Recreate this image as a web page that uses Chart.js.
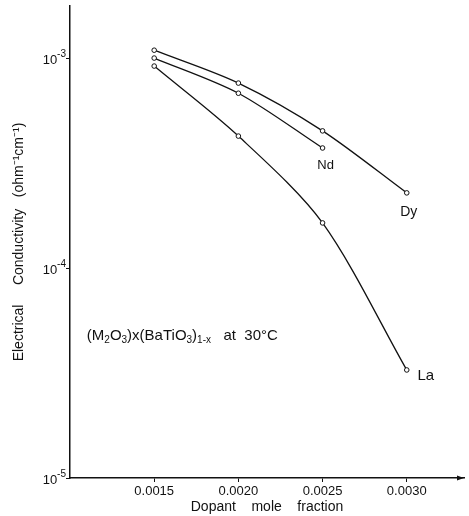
<!DOCTYPE html>
<html><head><meta charset="utf-8">
<script src="https://cdn.jsdelivr.net/npm/chart.js@4/dist/chart.umd.min.js"></script>
<style>html,body{margin:0;padding:0;background:#fff}canvas{display:block}</style>
</head><body>
<canvas id="c" width="469" height="516"></canvas>
<script>
const xTicks = [0.0015, 0.0020, 0.0025, 0.0030];
const xTickLabels = ['0.0015', '0.0020', '0.0025', '0.0030'];
const yTicks = [1e-5, 1e-4, 1e-3];
const yTickBase = ['10', '10', '10'];
const yTickExp = ['-5', '-4', '-3'];
const dyX = [0.0015, 0.0020, 0.0025, 0.0030];
const dyY = [1.09e-3, 7.6e-4, 4.5e-4, 2.28e-4];
const ndX = [0.0015, 0.0020, 0.0025];
const ndY = [1.0e-3, 6.8e-4, 3.73e-4];
const laX = [0.0015, 0.0020, 0.0025, 0.0030];
const laY = [9.16e-4, 4.25e-4, 1.64e-4, 3.27e-5];
const seriesNames = ['Dy', 'Nd', 'La'];

const FONT = '"Liberation Sans", Arial, sans-serif';
const pts = (xs, ys) => xs.map((x, i) => ({x, y: ys[i]}));
const ds = (name, xs, ys) => ({
  label: name, data: pts(xs, ys), borderColor: '#111', borderWidth: 1.3,
  pointRadius: 2.3, pointBackgroundColor: '#fff', pointBorderColor: '#111',
  pointBorderWidth: 1, tension: 0.3, fill: false
});

const annot = {
  id: 'annot',
  afterDraw(chart) {
    const ctx = chart.ctx, xs = chart.scales.x, ys = chart.scales.y;
    ctx.save();
    ctx.fillStyle = '#111';
    const P = (x, y) => [xs.getPixelForValue(x), ys.getPixelForValue(y)];
    // y tick labels with superscripts
    ctx.textBaseline = 'alphabetic'; ctx.textAlign = 'left';
    yTicks.forEach((v, i) => {
      const py = ys.getPixelForValue(v);
      ctx.font = '13px ' + FONT;
      const w1 = ctx.measureText(yTickBase[i]).width;
      ctx.font = '10px ' + FONT;
      const w2 = ctx.measureText(yTickExp[i]).width;
      const x0 = xs.left - 4 - w1 - w2;
      ctx.font = '13px ' + FONT; ctx.fillText(yTickBase[i], x0, py + 6);
      ctx.font = '10px ' + FONT; ctx.fillText(yTickExp[i], x0 + w1, py - 1);
    });
    // series labels
    ctx.textAlign = 'center'; ctx.textBaseline = 'middle';
    let p = P(ndX[2], ndY[2]); ctx.font = '13px ' + FONT; ctx.fillText(seriesNames[1], p[0] + 3, p[1] + 17);
    p = P(dyX[3], dyY[3]); ctx.font = '14px ' + FONT; ctx.fillText(seriesNames[0], p[0] + 2, p[1] + 19);
    p = P(laX[3], laY[3]); ctx.font = '15px ' + FONT; ctx.fillText(seriesNames[2], p[0] + 19, p[1] + 6);
    // caption with subscripts
    ctx.textAlign = 'left'; ctx.textBaseline = 'alphabetic';
    let [cx, cy] = P(0.00110, 4.54e-5);
    const segs = [['(M', 0], ['2', 1], ['O', 0], ['3', 1], [')x(BaTiO', 0], ['3', 1], [')', 0], ['1-x', 1], ['   at  30°C', 0]];
    for (const [t, sub] of segs) {
      ctx.font = (sub ? '10px ' : '15px ') + FONT;
      ctx.fillText(t, cx, cy + (sub ? 3 : 0));
      cx += ctx.measureText(t).width;
    }
    // arrow at end of x axis
    const ya = xs.top, xa = xs.right;
    ctx.beginPath(); ctx.moveTo(xa, ya); ctx.lineTo(xa - 7, ya - 2.5); ctx.lineTo(xa - 7, ya + 2.5); ctx.closePath(); ctx.fill();
    ctx.restore();
  }
};

new Chart(document.getElementById('c'), {
  type: 'line',
  data: { datasets: [ds('Dy', dyX, dyY), ds('Nd', ndX, ndY), ds('La', laX, laY)] },
  options: {
    responsive: false, animation: false,
    layout: { padding: { top: 6, right: 2, left: 0, bottom: 0 } },
    plugins: { legend: { display: false }, tooltip: { enabled: false } },
    scales: {
      x: {
        type: 'linear', min: 0.0010, max: 0.00334,
        afterBuildTicks: s => { s.ticks = xTicks.map(v => ({value: v})); },
        afterFit: s => { s.height = 38; },
        ticks: { color: '#111', font: { family: FONT, size: 13 }, padding: 2, maxRotation: 0,
          callback: (v) => { const i = xTicks.findIndex(t => Math.abs(t - v) < 1e-9); return i >= 0 ? xTickLabels[i] : ''; } },
        grid: { display: true, drawOnChartArea: false, drawTicks: true, tickLength: 4, color: '#111' },
        border: { display: true, color: '#111', width: 1.5 },
        title: { display: true, text: 'Dopant    mole    fraction', color: '#111', font: { family: FONT, size: 14 }, padding: { top: 0, bottom: 0 } }
      },
      y: {
        type: 'logarithmic', min: 1e-5, max: 1.77e-3,
        afterBuildTicks: s => { s.ticks = yTicks.map(v => ({value: v})); },
        afterFit: s => { s.width = 70; },
        ticks: { display: false },
        grid: { display: true, drawOnChartArea: false, drawTicks: true, tickLength: 4, color: '#111' },
        border: { display: true, color: '#111', width: 1.5 },
        title: { display: true, text: 'Electrical     Conductivity   (ohm⁻¹cm⁻¹)', color: '#111', font: { family: FONT, size: 14 }, padding: { top: 11, bottom: 0 } }
      }
    }
  },
  plugins: [annot]
});
</script>
</body></html>
